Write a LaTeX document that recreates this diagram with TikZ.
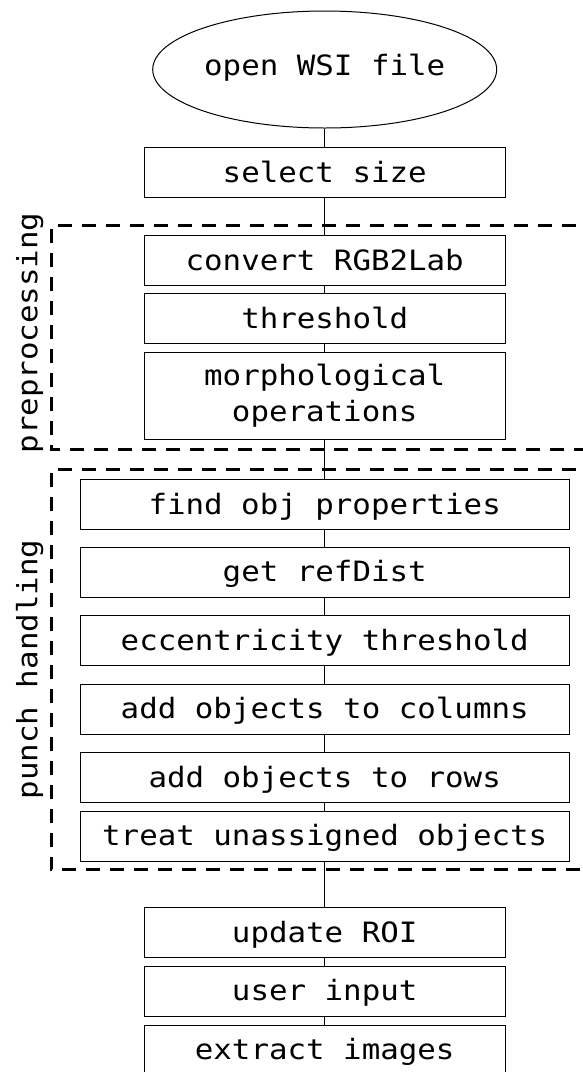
\documentclass[tikz,border=0pt]{standalone}
\usepackage{fontspec}
\newfontfamily\flowfont[FakeStretch=1.1]{DejaVu Sans Mono}
\usetikzlibrary{shapes.geometric}
\begin{document}
\begin{tikzpicture}[x=1pt,y=-1pt,
  every node/.style={font=\flowfont\fontsize{28}{36}\selectfont},
  proc/.style={draw, line width=1pt, rectangle, inner sep=0pt, minimum height=50pt, text height=21pt, text depth=2pt},
  mainbox/.style={proc, minimum width=360.7pt},
  widebox/.style={proc, minimum width=489.3pt},
  conn/.style={line width=1pt},
  groupframe/.style={dash pattern=on 14pt off 10pt, line width=3pt},
  grouplabel/.style={rotate=90, anchor=base, inner sep=0pt}
]
\useasboundingbox (0,0) rectangle (582,1072);

% groups
\draw[groupframe] (600,225.5) -- (51,225.5) -- (51,449.5) -- (600,449.5);
\draw[groupframe] (600,469.5) -- (51,469.5) -- (51,869.5) -- (600,869.5);
\node[grouplabel] (prelabel) at (37.5,333) {preprocessing};
\node[grouplabel] (punchlabel) at (37.5,669.5) {punch handling};

% nodes
\node[ellipse, draw, line width=1pt, minimum width=344pt, minimum height=117pt, inner sep=0pt, text height=14pt, text depth=2.4pt] (open) at (324.7,69.5) {open WSI file};
\node[mainbox] (size) at (324.7,172.5) {select size};
\node[mainbox] (conv) at (324.7,260.5) {convert RGB2Lab};
\node[mainbox] (thr) at (324.7,318.8) {threshold};
\node[proc, minimum width=360.7pt, minimum height=87.4pt, text height=, text depth=, align=center] (morph) at (324.7,396) {morphological\\operations};
\node[widebox] (find) at (324.7,504.7) {find obj properties};
\node[widebox] (ref) at (324.7,572.3) {get refDist};
\node[widebox] (ecc) at (324.7,640.7) {eccentricity threshold};
\node[widebox] (cols) at (324.7,709.3) {add objects to columns};
\node[widebox] (rows) at (324.7,777.8) {add objects to rows};
\node[widebox] (treat) at (324.7,836.3) {treat unassigned objects};
\node[mainbox] (roi) at (324.7,932.5) {update ROI};
\node[mainbox] (user) at (324.7,991.2) {user input};
\node[mainbox] (extr) at (324.7,1050) {extract images};

% connectors
\draw[conn] (open) -- (size);
\draw[conn] (size) -- (conv);
\draw[conn] (conv) -- (thr);
\draw[conn] (thr) -- (morph);
\draw[conn] (morph) -- (find);
\draw[conn] (find) -- (ref);
\draw[conn] (ref) -- (ecc);
\draw[conn] (ecc) -- (cols);
\draw[conn] (cols) -- (rows);
\draw[conn] (rows) -- (treat);
\draw[conn] (treat) -- (roi);
\draw[conn] (roi) -- (user);
\draw[conn] (user) -- (extr);
\end{tikzpicture}
\end{document}
